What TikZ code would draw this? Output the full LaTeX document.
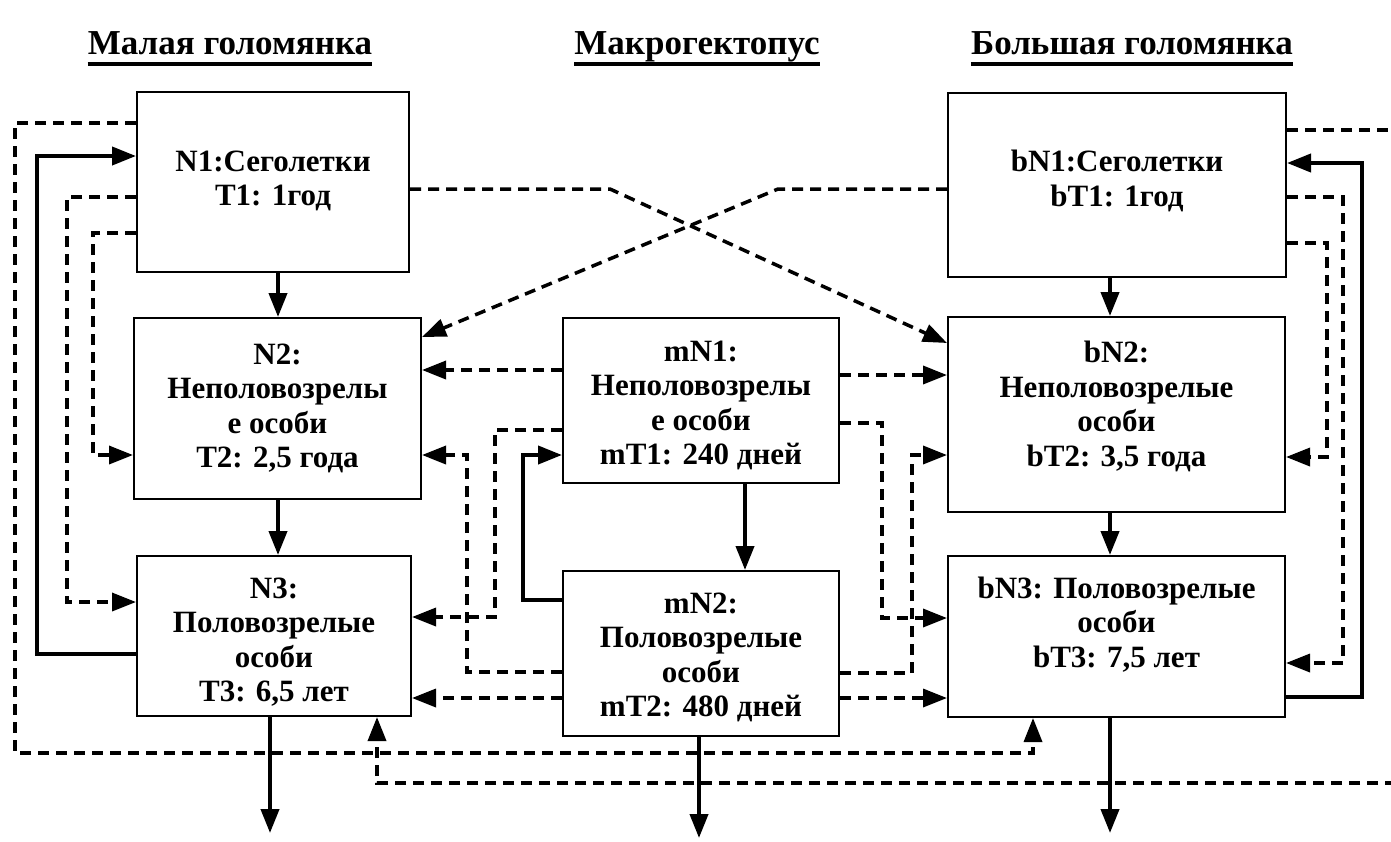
\documentclass[tikz,border=0pt]{standalone}
\usepackage{fontspec}
\setmainfont{Liberation Serif}
\usetikzlibrary{arrows.meta}
\tikzset{
    %Define standard arrow tip
    >={Triangle[length=24pt,width=18pt]},
}

\begin{document}
\begin{tikzpicture}[x=1pt,y=-1pt]
    \tikzset{
      blk/.style={draw, fill=white,
                  line width=2pt,
                  shape=rectangle},
      txt/.style={align=center, inner sep=0pt,
                  font=\bfseries\fontsize{31}{34.5}\selectfont},
      ttl/.style={inner sep=0pt, anchor=base,
                  font=\bfseries\fontsize{35}{40}\selectfont},
      flow/.style={draw, ->, line width=4pt},
      link/.style={draw, ->, line width=3.5pt, dash pattern=on 11pt off 7pt}
    }
    \useasboundingbox (0,0) rectangle (1391,841);

    % headings
    \node [ttl] (hsmall) at (230,54) {Малая голомянка};
    \node [ttl] (hmacro) at (697,54) {Макрогектопус};
    \node [ttl] (hbig) at (1132,54) {Большая голомянка};
    \foreach \h in {hsmall, hmacro, hbig}
        \draw [line width=4pt] ([yshift=-9.5pt]\h.base west) -- ([yshift=-9.5pt]\h.base east);

    % small golomyanka
    \node [blk, minimum width=272pt, minimum height=180pt] (n1) at (273,182) {};
    \node [blk, minimum width=287pt, minimum height=181pt] (n2) at (277.5,408.5) {};
    \node [blk, minimum width=274pt, minimum height=160pt] (n3) at (274,636) {};
    \node [txt] (n1t) at ([yshift=1pt]n1.center) {N1:Сеголетки\\T1: 1год};
    \node [txt] (n2t) at (n2.center) {N2:\\Неполовозрелы\\е особи\\T2: 2,5 года};
    \node [txt] (n3t) at ([yshift=-6pt]n3.center) {N3:\\Половозрелые\\особи\\T3: 6,5 лет};

    % macrohectopus
    \node [blk, minimum width=276pt, minimum height=165pt] (mn1) at (701,400.5) {};
    \node [blk, minimum width=276pt, minimum height=165pt] (mn2) at (701,653.5) {};
    \node [txt] (mn1t) at ([yshift=-5pt]mn1.center) {mN1:\\Неполовозрелы\\е особи\\mT1: 240 дней};
    \node [txt] (mn2t) at ([yshift=-4pt]mn2.center) {mN2:\\Половозрелые\\особи\\mT2: 480 дней};

    % big golomyanka
    \node [blk, minimum width=338pt, minimum height=184pt] (bn1) at (1117,185) {};
    \node [blk, minimum width=337pt, minimum height=195pt] (bn2) at (1116.5,414.5) {};
    \node [blk, minimum width=337pt, minimum height=161pt] (bn3) at (1116.5,636.5) {};
    \node [txt] (bn1t) at ([yshift=4pt]bn1.center) {bN1:Сеголетки\\bT1: 1год};
    \node [txt] (bn2t) at ([yshift=8pt]bn2.center) {bN2:\\Неполовозрелые\\особи\\bT2: 3,5 года};
    \node [txt] (bn3t) at ([yshift=12pt]bn3.center) {bN3: Половозрелые\\особи\\bT3: 7,5 лет};

    \coordinate (outn) at (270,833);
    \coordinate (outm) at (699,838);
    \coordinate (outb) at (1110,833);

    % growth and outflow
    \path[flow] (n1.south -| 278,0) -- (n2.north -| 278,0);
    \path[flow] (n2.south -| 278,0) -- (n3.north -| 278,0);
    \path[flow] (n3.south -| outn) -- (outn);
    \path[flow] (n3.west |- 0,654) -| (37,156) -- (n1.west |- 0,156);
    \path[flow] (mn1.south -| 745,0) -- (mn2.north -| 745,0);
    \path[flow] (mn2.south -| outm) -- (outm);
    \path[flow] (mn2.west |- 0,600) -| (523,455) -- (mn1.west |- 0,455);
    \path[flow] (bn1.south -| 1110,0) -- (bn2.north -| 1110,0);
    \path[flow] (bn2.south -| 1110,0) -- (bn3.north -| 1110,0);
    \path[flow] (bn3.south -| outb) -- (outb);
    \path[flow] (bn3.east |- 0,697) -| (1362,163) -- (bn1.east |- 0,163);

    % links
    \path[link] (n1.west |- 0,123) -| (15,753) -| (bn3.south -| 1033,0);
    \path[link] (n1.west |- 0,197) -| (67,602) -- (n3.west |- 0,602);
    \path[link] (n1.west |- 0,233) -| (93,455) -- (n2.west |- 0,455);
    \path[link] (n1.east |- 0,189) -- (610,189) -- (bn2.west |- 0,343);
    \path[link] (bn1.west |- 0,189) -- (778,189) -- (n2.east |- 0,337);
    \path[link] (mn1.west |- 0,370) -- (n2.east |- 0,370);
    \path[link] (mn1.east |- 0,375) -- (bn2.west |- 0,375);
    \path[link] (mn1.west |- 0,430) -| (495,617) -- (n3.east |- 0,617);
    \path[link] (mn1.east |- 0,423) -| (882,618) -- (bn3.west |- 0,618);
    \path[link] (mn2.west |- 0,672) -| (467,455) -- (n2.east |- 0,455);
    \path[link] (mn2.east |- 0,673) -| (912,455) -- (bn2.west |- 0,455);
    \path[link] (mn2.west |- 0,698) -- (n3.east |- 0,698);
    \path[link] (mn2.east |- 0,698) -- (bn3.west |- 0,698);
    \path[link] (bn1.east |- 0,130) -- (1420,130) -- (1420,783) -| (n3.south -| 377,0);
    \path[link] (bn1.east |- 0,197) -| (1343,663) -- (bn3.east |- 0,663);
    \path[link] (bn1.east |- 0,243) -| (1327,457) -- (bn2.east |- 0,457);
\end{tikzpicture}
\end{document}
